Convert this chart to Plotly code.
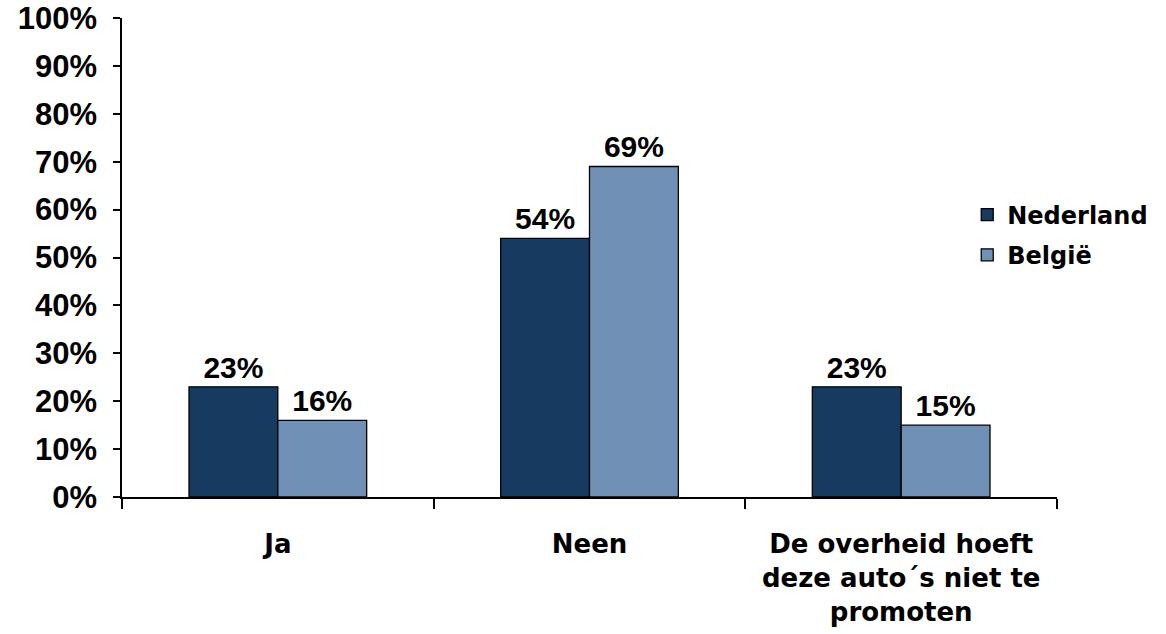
import plotly.graph_objects as go

categories = ["Ja", "Neen", "De overheid hoeft<br>deze auto´s niet te<br>promoten"]
nederland = [23, 54, 23]
belgie = [16, 69, 15]
tick_vals = [0, 10, 20, 30, 40, 50, 60, 70, 80, 90, 100]
tick_text = [f"{v}%" for v in tick_vals]

NUM_FAMILY = "Liberation Sans"
TXT_FAMILY = "DejaVu Sans"
NUMFONT = dict(family=NUM_FAMILY, size=30, color="black", weight="bold")

fig = go.Figure()
fig.add_trace(go.Bar(
    name="Nederland", x=categories, y=nederland, legendgroup="nl",
    marker=dict(color="#173A60", line=dict(color="black", width=1.3)),
    text=[f"{v}%" for v in nederland], textposition="outside",
    textfont=NUMFONT, cliponaxis=False,
))
fig.add_trace(go.Bar(
    name="België", x=categories, y=belgie, legendgroup="be",
    marker=dict(color="#7190B5", line=dict(color="black", width=1.3)),
    text=[f"{v}%" for v in belgie], textposition="outside",
    textfont=NUMFONT, cliponaxis=False,
))
fig.update_layout(
    width=1166, height=634,
    margin=dict(l=122, r=109, t=18, b=137),
    plot_bgcolor="white", paper_bgcolor="white",
    barmode="group", bargap=0.43, bargroupgap=0,
    font=dict(family=TXT_FAMILY, size=26, color="black", weight="bold"),
    showlegend=True,
    legend=dict(x=0.904, y=0.547, xanchor="left", yanchor="middle",
                font=dict(family=TXT_FAMILY, size=24, color="black", weight="bold"),
                bgcolor="rgba(0,0,0,0)", itemwidth=30, tracegroupgap=6),
    uniformtext=dict(minsize=30, mode="show"),
)
fig.update_xaxes(
    automargin=False, ticklabeloverflow="allow",
    showline=True, linecolor="black", linewidth=1.5,
    ticks="outside", tickson="boundaries", ticklen=10, tickcolor="black", tickwidth=1.5,
    showgrid=False, ticklabelstandoff=23,
    tickfont=dict(family=TXT_FAMILY, size=26, color="black", weight="bold"),
)
fig.update_yaxes(
    automargin=False, ticklabeloverflow="allow",
    range=[0, 100], tickvals=tick_vals, ticktext=tick_text,
    showline=True, linecolor="black", linewidth=1.5,
    ticks="outside", ticklen=7, tickcolor="black", tickwidth=1.5,
    showgrid=False, zeroline=False, ticklabelstandoff=10,
    tickfont=dict(family=NUM_FAMILY, size=31, color="black", weight="bold"),
)
fig.write_html(
    "out.html",
    config={"displayModeBar": False},
    post_script="document.body.style.margin='0';document.body.style.overflow='hidden';",
)
